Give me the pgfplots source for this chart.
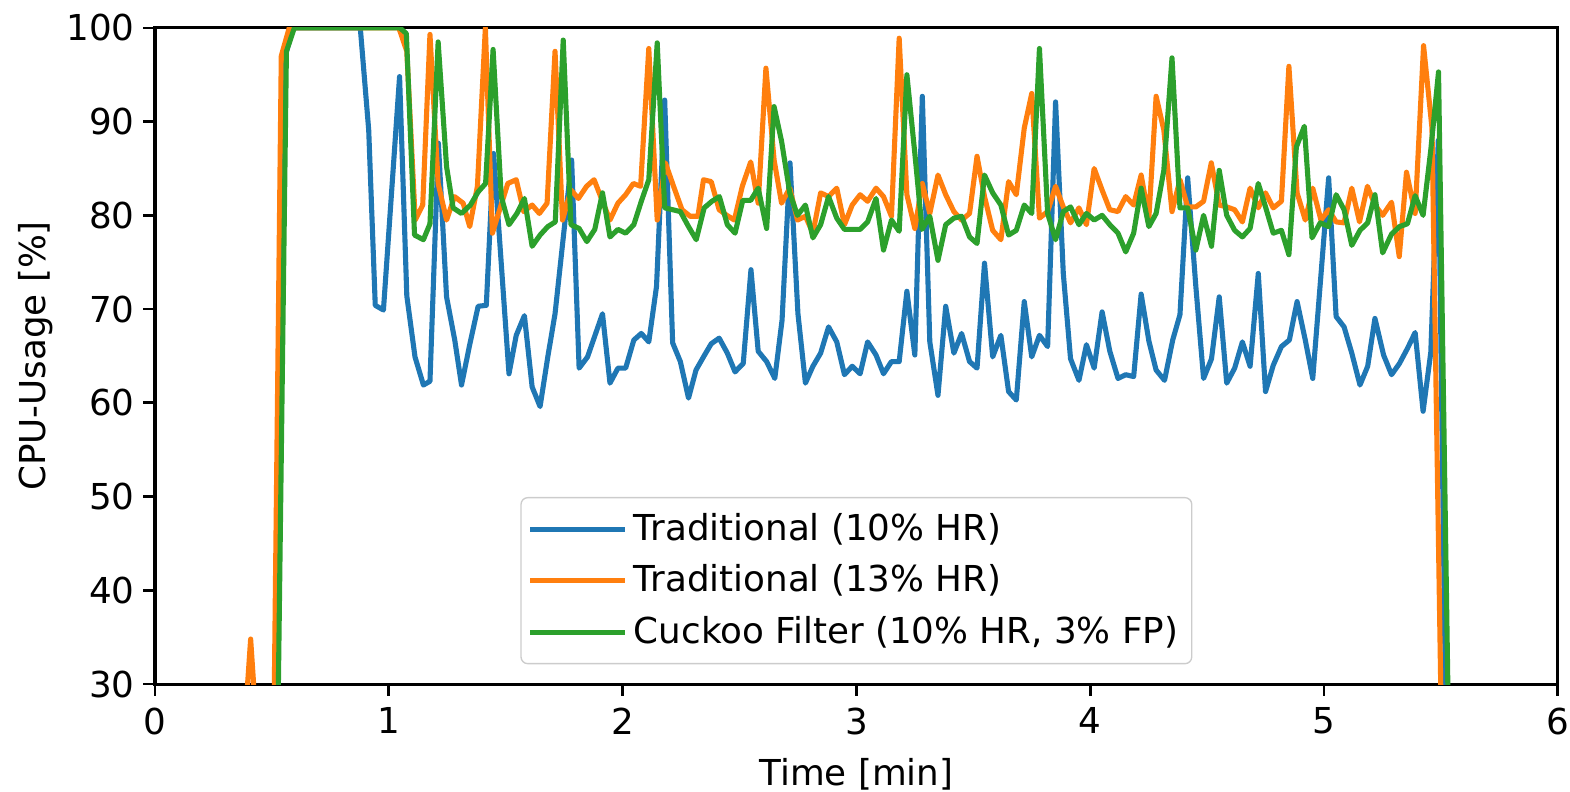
\documentclass[border=0pt]{standalone}
\usepackage{fontspec}
\setmainfont{DejaVu Sans}
\usepackage{pgfplots}
\pgfplotsset{compat=1.18}
\definecolor{tabblue}{HTML}{1F77B4}
\definecolor{taborange}{HTML}{FF7F0E}
\definecolor{tabgreen}{HTML}{2CA02C}
\newcommand{\figfont}{\fontsize{10.5}{12.6}\selectfont}

\begin{document}
\begin{tikzpicture}
\begin{axis}[
  name=ax,
  scale only axis,
  width=412.6pt, height=193pt,
  xmin=0, xmax=6, ymin=30, ymax=100,
  xtick={0,...,6}, ytick={30,40,...,100},
  tick pos=left, tick align=outside,
  major tick length=3.5pt,
  every tick/.style={black, line width=0.8pt},
  axis line style={line width=0.9pt},
  tick label style={font=\figfont},
  yticklabel style={xshift=1pt},
  label style={font=\figfont},
  xlabel={Time [min]}, ylabel={CPU-Usage [\%]},
  ylabel shift=-3pt,
  /pgf/number format/assume math mode=true,
  legend cell align=left,
  legend style={at={(0.5,0.03)}, anchor=south, draw=black!20, rounded corners=2pt,
    fill=white, fill opacity=0.8, text opacity=1, inner xsep=2pt, inner ysep=2.5pt,
    row sep=1.7pt, font=\figfont},
  legend image code/.code={\draw[#1] (1.4pt,0pt) -- (24.2pt,0pt); \path (0pt,0pt) -- (27.7pt,0pt);},
  every axis plot/.append style={line width=1.5pt, line join=round},
]
% Traditional (10% HR)
\addplot[tabblue] coordinates {
(0.000,5) (0.511,5) (0.557,97) (0.591,100) (0.878,100) (0.914,89.1) (0.942,70.4) (0.977,69.9)
(1.046,94.8) (1.077,71.4) (1.112,64.9) (1.148,61.9) (1.176,62.3) (1.212,87.7) (1.247,71.3) (1.282,66.7)
(1.311,61.9) (1.346,66.2) (1.382,70.3) (1.417,70.4) (1.448,86.6) (1.514,63.1) (1.545,67.2) (1.580,69.3)
(1.613,61.7) (1.647,59.6) (1.680,64.9) (1.711,69.5) (1.782,85.9) (1.814,63.7) (1.850,64.9) (1.882,67.2)
(1.914,69.5) (1.946,62.1) (1.980,63.7) (2.013,63.7) (2.048,66.7) (2.080,67.4) (2.112,66.5) (2.145,72.4)
(2.180,92.3) (2.214,66.4) (2.247,64.4) (2.282,60.5) (2.314,63.5) (2.346,64.9) (2.379,66.3) (2.413,66.9)
(2.448,65.3) (2.481,63.3) (2.516,64.2) (2.549,74.2) (2.580,65.5) (2.616,64.4) (2.651,62.6) (2.682,68.8)
(2.716,85.6) (2.750,69.5) (2.782,62.1) (2.814,63.9) (2.847,65.3) (2.881,68.1) (2.916,66.5) (2.949,63.0)
(2.982,63.9) (3.016,63.1) (3.048,66.5) (3.084,65.1) (3.116,63.1) (3.150,64.4) (3.183,64.4) (3.216,71.9)
(3.250,65.1) (3.282,92.7) (3.314,66.5) (3.349,60.8) (3.382,70.3) (3.417,65.3) (3.450,67.4) (3.484,64.4)
(3.516,63.7) (3.548,74.9) (3.583,64.9) (3.618,67.2) (3.651,61.2) (3.684,60.3) (3.718,70.8) (3.750,64.9)
(3.783,67.2) (3.818,66.0) (3.852,92.1) (3.885,73.8) (3.916,64.7) (3.952,62.4) (3.984,66.2) (4.017,63.7)
(4.051,69.7) (4.084,65.5) (4.119,62.6) (4.152,63.0) (4.186,62.8) (4.218,71.6) (4.251,66.6) (4.282,63.5)
(4.318,62.4) (4.353,66.7) (4.384,69.4) (4.417,84.0) (4.452,72.4) (4.485,62.6) (4.519,64.7) (4.552,71.3)
(4.584,62.1) (4.618,63.7) (4.651,66.5) (4.684,63.9) (4.719,73.8) (4.750,61.2) (4.783,64.0) (4.818,66.0)
(4.852,66.7) (4.885,70.8) (4.920,66.7) (4.952,62.6) (5.020,84.0) (5.052,69.2) (5.086,68.1) (5.119,65.3)
(5.154,61.9) (5.187,63.9) (5.218,69.0) (5.255,65.1) (5.289,63.0) (5.323,64.2) (5.357,65.8) (5.390,67.5)
(5.424,59.1) (5.457,65.4) (5.489,88.0) (5.532,5) (5.700,5)
};
\addlegendentry{Traditional (10\% HR)}
% Traditional (13% HR)
\addplot[taborange] coordinates {
(0.000,20) (0.374,22) (0.409,34.8) (0.443,22) (0.506,20) (0.540,97) (0.574,100) (1.043,100)
(1.077,97.5) (1.113,79.5) (1.145,81.1) (1.176,99.3) (1.211,83.4) (1.247,79.5) (1.281,82.0) (1.318,81.3)
(1.346,78.8) (1.379,83.1) (1.413,100) (1.443,78.1) (1.474,80.6) (1.509,83.4) (1.545,83.8) (1.577,80.4)
(1.613,81.1) (1.644,80.2) (1.677,81.3) (1.711,97.5) (1.743,79.5) (1.779,82.7) (1.811,81.8) (1.846,83.1)
(1.878,83.8) (1.914,81.5) (1.946,79.5) (1.980,81.3) (2.013,82.2) (2.046,83.4) (2.077,83.1) (2.112,97.8)
(2.148,79.5) (2.183,85.6) (2.218,83.1) (2.254,80.6) (2.289,79.9) (2.322,79.9) (2.346,83.8) (2.379,83.6)
(2.413,80.6) (2.446,80.0) (2.478,79.5) (2.512,83.1) (2.548,85.7) (2.580,81.3) (2.613,95.7) (2.648,85.9)
(2.680,81.3) (2.715,82.9) (2.748,79.5) (2.782,79.9) (2.814,78.1) (2.847,82.4) (2.881,82.0) (2.916,82.9)
(2.949,79.0) (2.982,81.1) (3.016,82.2) (3.048,81.5) (3.084,82.9) (3.116,82.0) (3.150,79.9) (3.183,98.9)
(3.216,82.2) (3.250,78.6) (3.282,83.4) (3.314,80.2) (3.349,84.3) (3.382,82.2) (3.417,80.4) (3.450,79.5)
(3.484,80.2) (3.516,86.3) (3.548,82.0) (3.583,78.4) (3.618,77.4) (3.651,83.6) (3.684,82.2) (3.718,89.3)
(3.750,93.0) (3.783,79.7) (3.818,80.4) (3.852,83.1) (3.885,80.9) (3.916,79.2) (3.952,80.8) (3.984,79.0)
(4.017,85.0) (4.051,82.7) (4.084,80.6) (4.119,80.4) (4.152,82.0) (4.186,81.1) (4.218,84.3) (4.251,79.7)
(4.282,92.7) (4.315,89.1) (4.350,80.4) (4.384,83.8) (4.417,80.9) (4.452,80.9) (4.485,81.5) (4.518,85.6)
(4.552,81.1) (4.584,80.9) (4.618,80.6) (4.651,79.3) (4.684,82.9) (4.719,80.8) (4.750,82.4) (4.783,80.8)
(4.818,81.5) (4.850,95.9) (4.885,82.4) (4.920,79.5) (4.952,82.9) (4.987,79.5) (5.020,80.6) (5.052,79.3)
(5.086,79.2) (5.119,82.9) (5.152,79.3) (5.186,83.1) (5.218,81.1) (5.251,80.0) (5.289,81.4) (5.322,75.6)
(5.353,84.6) (5.390,80.2) (5.426,98.1) (5.462,89.3) (5.515,5) (5.700,5)
};
\addlegendentry{Traditional (13\% HR)}
% Cuckoo Filter (10% HR, 3% FP)
\addplot[tabgreen] coordinates {
(0.000,5) (0.515,5) (0.562,97.5) (0.596,100) (1.047,100) (1.075,99.4) (1.110,77.9) (1.148,77.4)
(1.176,79.1) (1.211,98.5) (1.247,85.2) (1.275,80.8) (1.311,80.2) (1.349,81.1) (1.382,82.5) (1.414,83.4)
(1.446,97.7) (1.481,82.0) (1.514,79.0) (1.548,80.2) (1.580,81.8) (1.613,76.7) (1.647,77.9) (1.680,78.8)
(1.712,79.3) (1.746,98.7) (1.779,79.0) (1.814,78.6) (1.847,77.2) (1.881,78.5) (1.914,82.4) (1.946,77.7)
(1.980,78.5) (2.013,78.1) (2.048,79.0) (2.080,81.5) (2.112,83.8) (2.148,98.4) (2.180,80.8) (2.214,80.6)
(2.247,80.4) (2.282,78.8) (2.315,77.4) (2.349,80.8) (2.382,81.5) (2.414,82.0) (2.448,79.0) (2.481,78.1)
(2.514,81.6) (2.548,81.6) (2.580,82.9) (2.616,78.6) (2.648,91.6) (2.680,87.9) (2.715,82.4) (2.748,80.0)
(2.782,81.1) (2.814,77.6) (2.847,79.0) (2.881,82.0) (2.916,79.7) (2.949,78.5) (2.982,78.5) (3.016,78.5)
(3.048,79.3) (3.084,81.8) (3.116,76.3) (3.150,79.5) (3.183,78.3) (3.216,95.0) (3.250,86.6) (3.281,78.5)
(3.314,79.9) (3.349,75.2) (3.382,79.0) (3.417,79.7) (3.450,79.9) (3.484,77.7) (3.516,77.0) (3.548,84.3)
(3.583,82.4) (3.618,81.1) (3.651,77.9) (3.684,78.4) (3.718,81.1) (3.750,80.2) (3.783,97.8) (3.818,80.2)
(3.852,77.4) (3.885,80.4) (3.916,80.9) (3.952,79.0) (3.984,80.2) (4.017,79.5) (4.051,80.0) (4.084,79.0)
(4.119,78.1) (4.152,76.1) (4.186,78.1) (4.218,82.9) (4.251,78.8) (4.282,80.2) (4.315,84.8) (4.350,96.8)
(4.384,80.8) (4.417,80.8) (4.452,76.3) (4.485,80.0) (4.519,76.7) (4.552,84.8) (4.584,80.0) (4.618,78.4)
(4.651,77.7) (4.684,78.6) (4.719,83.4) (4.750,80.9) (4.783,78.1) (4.818,78.4) (4.850,75.8) (4.882,87.3)
(4.916,89.5) (4.949,77.6) (4.984,79.2) (5.020,78.8) (5.052,82.2) (5.086,80.6) (5.119,76.8) (5.154,78.4)
(5.187,79.2) (5.218,82.2) (5.251,76.0) (5.289,78.0) (5.323,78.8) (5.357,79.1) (5.390,82.1) (5.424,80.0)
(5.457,87.0) (5.490,95.3) (5.545,5) (5.700,5)
};
\addlegendentry{Cuckoo Filter (10\% HR, 3\% FP)}
\end{axis}
\pgfresetboundingbox
\path[use as bounding box] ([shift={(-45.6pt,-31.5pt)}]ax.south west) rectangle ([shift={(3.6pt,8.2pt)}]ax.north east);
\end{tikzpicture}
\end{document}
